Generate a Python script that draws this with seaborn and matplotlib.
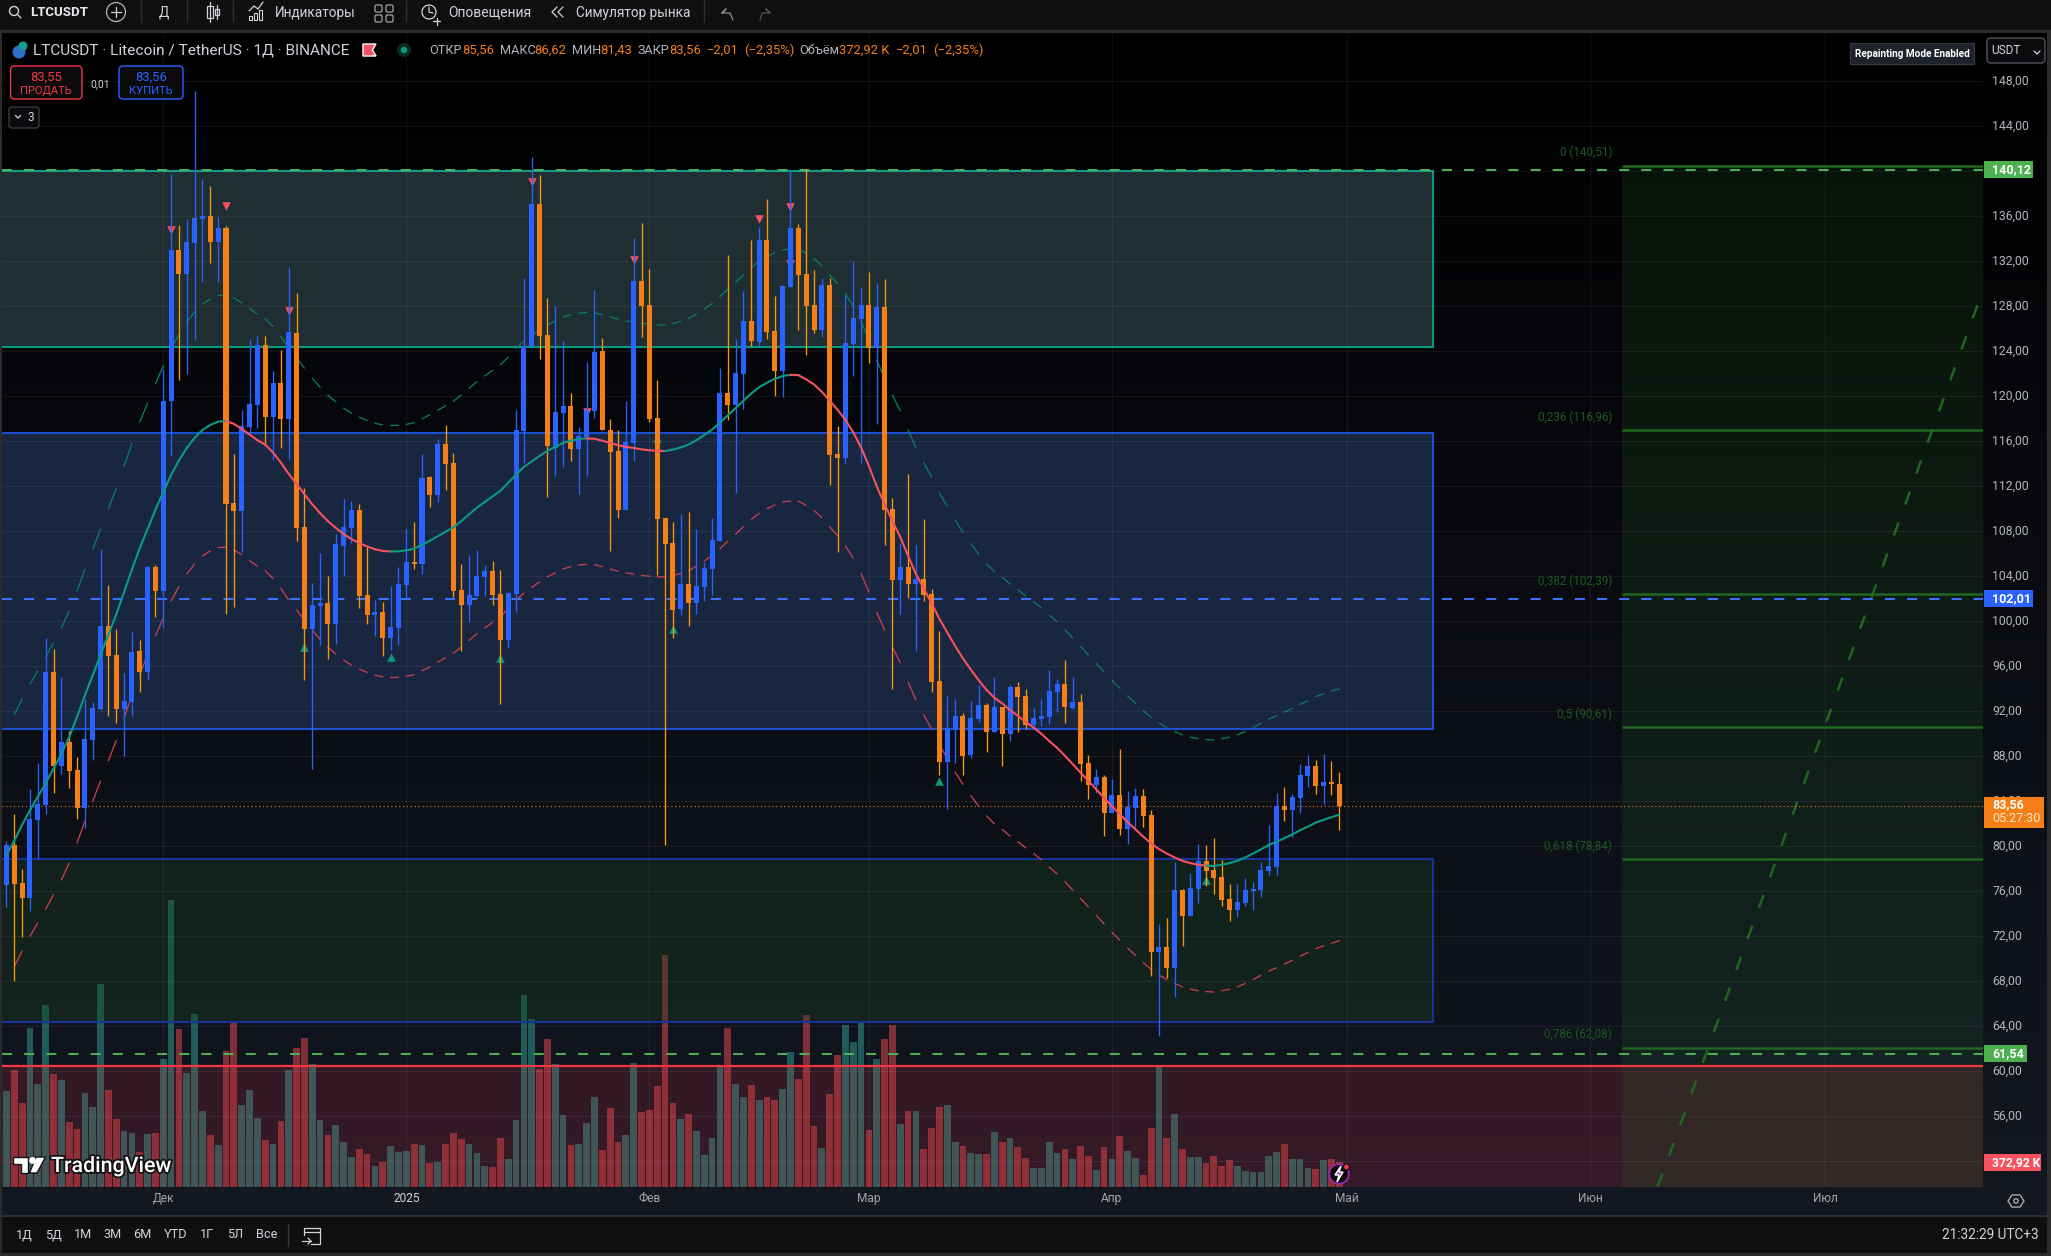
import numpy as np
import pandas as pd
import matplotlib
matplotlib.use("Agg")
import matplotlib.pyplot as plt
import matplotlib.patheffects as pe
from matplotlib.patches import Rectangle, FancyBboxPatch, Circle, Polygon
from matplotlib.transforms import ScaledTranslation
import seaborn as sns

# --- Data (day 0 = 1 Dec 2024) ---
first_day = -20
opens = [76.56,80.12,76.74,75.41,82.34,83.67,95.49,87.14,89.27,86.78,83.41,89.45,92.2,99.58,97.0,92.2,92.83,97.36,95.5,104.83,
102.68,119.59,132.99,130.88,133.64,135.74,136.02,133.7,134.96,110.51,
109.79,117.24,119.21,124.55,118.16,121.19,117.99,125.61,108.4,99.32,
101.36,101.63,99.76,106.7,108.3,109.89,102.34,100.57,100.81,98.5,
99.42,103.23,105.27,105.1,112.82,111.22,115.75,114.08,102.79,101.46,
102.24,103.94,104.49,102.45,98.33,102.41,116.92,124.44,137.08,125.42,
115.43,118.49,119.13,115.3,116.36,118.7,124.02,117.04,115.13,109.9,
115.85,130.23,128.1,118.06,109.17,106.96,101.09,103.35,101.6,103.05,
104.62,107.13,120.28,119.21,121.98,126.7,124.83,133.89,125.81,122.23,
129.72,134.95,130.87,128.1,125.89,129.89,114.87,114.49,124.66,126.87,
128.1,124.27,127.93,109.98,103.65,104.79,103.35,103.73,102.41,94.67,
87.48,90.37,91.56,88.08,91.31,92.56,90.14,92.37,89.99,94.15,
93.35,90.78,91.32,91.48,93.7,94.43,92.3,92.81,87.42,85.48,
86.15,82.97,84.56,81.54,83.42,84.46,82.78,70.59,71.03,69.19,
76.11,73.8,76.21,78.68,77.89,77.26,75.32,74.34,74.97,76.02,
76.11,77.8,78.14,83.6,83.22,84.3,86.24,87.13,85.35,85.7,85.56]
closes = [80.12,76.65,75.41,82.43,83.76,95.49,87.14,89.27,86.69,83.41,89.54,92.29,99.58,96.92,92.2,92.92,97.27,95.49,104.83,102.68,
119.59,132.99,130.88,133.7,135.85,136.02,133.7,134.96,110.44,109.79,
117.34,119.32,124.55,118.16,121.19,117.99,125.71,108.3,99.32,101.46,
101.63,99.76,106.87,108.4,109.89,102.24,100.57,100.81,98.5,99.49,
103.33,105.27,105.06,112.75,111.22,115.75,113.98,102.68,101.46,102.34,
104.01,104.49,102.34,98.33,102.49,117.0,124.44,137.08,125.34,115.55,
118.57,119.13,115.3,116.45,118.74,123.93,117.04,115.04,109.9,115.94,
130.23,128.02,117.98,109.09,106.83,100.97,103.35,101.6,103.14,104.71,
107.22,120.28,119.21,122.06,126.7,124.91,133.89,125.72,122.23,129.8,
134.95,130.78,128.02,125.89,129.89,114.79,114.49,124.74,126.95,128.1,
124.27,127.93,109.9,103.65,104.79,103.35,103.73,102.33,94.58,87.48,
90.5,91.56,87.99,91.39,92.56,90.14,92.37,89.99,94.15,93.26,
90.78,91.4,91.57,93.8,94.43,92.37,92.81,87.32,85.48,86.15,
82.97,84.56,81.54,83.48,84.46,82.68,70.59,71.03,69.19,76.11,
73.8,76.3,78.68,77.8,77.19,75.22,74.34,75.03,76.11,76.21,
77.89,78.24,83.6,83.22,84.37,86.34,87.13,85.35,85.7,85.54,83.56]
highs = [80.47,82.87,77.98,85.09,87.41,98.52,97.54,95.05,90.25,87.94,93.09,92.83,106.43,103.23,99.32,95.41,99.05,98.34,104.9,104.99,
122.41,139.76,135.23,135.74,147.16,139.32,138.7,135.95,135.13,114.86,
118.77,125.1,125.37,125.37,122.24,124.11,131.49,129.15,111.83,103.4,
106.09,104.01,107.72,110.88,110.68,110.44,106.56,101.9,101.73,103.13,
104.83,108.19,108.84,114.83,112.92,116.19,117.45,114.96,105.1,105.91,
106.32,104.99,105.37,104.54,102.62,118.74,130.53,141.29,139.67,128.74,
128.02,124.91,120.28,117.26,123.04,129.42,125.17,117.98,116.96,119.55,
134.06,135.42,131.29,121.42,109.17,108.79,109.51,109.69,108.2,105.26,
109.2,122.49,132.57,125.08,129.34,133.89,135.04,137.54,128.91,129.89,
140.05,135.29,140.18,131.21,130.53,130.53,117.34,129.0,132.02,129.63,
131.04,130.06,130.4,110.96,106.96,113.09,106.75,109.09,102.84,99.14,
93.35,93.05,91.82,92.88,94.34,92.75,95.03,92.37,94.34,94.59,
93.99,92.3,93.1,95.67,94.88,96.56,95.03,93.51,88.11,86.88,
86.34,85.99,88.65,84.91,85.19,85.1,83.22,73.1,73.64,78.59,
76.21,77.64,80.21,80.11,80.75,78.78,76.65,76.65,77.19,76.81,
78.59,81.89,84.75,85.26,84.65,87.32,88.11,87.67,88.21,87.57,86.62]
lows = [74.63,68.0,71.94,74.25,78.87,82.87,84.74,86.43,85.18,82.43,81.63,87.67,92.12,91.58,90.96,88.03,91.58,93.72,94.79,100.41,
99.45,114.69,121.46,122.0,124.98,130.17,131.83,130.17,100.64,101.25,
106.12,116.56,117.14,115.61,114.35,115.4,114.45,107.17,94.79,86.87,
97.85,96.66,97.99,104.01,106.97,101.19,99.76,98.71,96.9,97.45,
97.85,102.1,104.66,104.21,110.17,110.61,111.66,102.17,97.34,99.96,
102.17,102.24,101.46,92.63,97.6,100.84,114.07,124.44,123.3,111.05,
112.92,113.68,114.24,111.3,112.92,118.06,116.96,106.24,109.17,109.9,
114.24,125.25,117.72,104.11,80.08,98.54,100.54,99.56,100.63,101.77,
102.33,107.13,117.89,111.39,118.87,124.44,124.44,125.08,120.02,119.94,
129.72,125.89,123.68,125.64,125.25,112.11,106.15,113.98,121.81,114.07,
122.96,117.51,106.75,93.99,100.63,102.11,97.35,101.77,93.69,86.29,
83.27,87.4,86.33,87.86,91.05,88.37,90.14,87.13,89.35,90.14,
90.46,90.4,90.65,90.88,91.89,90.97,92.21,85.8,84.21,84.75,
80.91,82.97,81.0,80.21,81.64,81.7,68.46,63.13,68.3,66.59,
71.13,73.8,74.97,76.46,75.76,74.68,73.35,73.7,74.68,74.34,
75.48,77.45,77.45,82.24,80.84,82.97,85.26,84.65,83.76,84.56,81.43]
# volume, thousands of LTC
volumes = [1444,1760,1263,2394,1559,2741,1700,1620,976,870,1413,1202,3058,1459,1021,840,810,523,795,810,
1926,4341,2379,1715,2606,1142,780,629,2047,2470,
1232,1459,1036,704,644,991,1760,2092,2243,1851,
1006,780,931,674,448,568,493,312,372,614,
523,538,644,629,357,372,644,810,719,644,
508,312,297,734,417,1006,2892,2530,1776,2228,
1851,1081,629,644,961,1353,553,1187,674,780,
1866,1127,1157,1519,3496,1263,1021,1097,840,478,
734,1806,2394,1549,1353,1534,1308,1353,1308,1474,
2032,1625,2590,915,583,1398,1987,2440,2183,2470,
855,1926,2228,2440,946,1142,1142,568,885,1202,
1232,674,614,508,493,493,825,674,734,599,
433,282,282,674,508,568,417,614,463,252,
599,417,765,538,433,176,885,1806,734,1097,
568,448,448,357,463,312,402,312,236,221,
221,463,523,644,417,417,282,267,402,417,373]

# kernel line and its envelope, one value per candle
ma_vals = [79.2,80.5,81.9,83.2,84.4,85.6,86.9,88.2,89.7,91.5,93.4,95.2,97.0,98.8,100.6,102.6,104.6,106.5,108.2,109.9,
111.5,113.0,114.3,115.4,116.3,117.0,117.45,117.75,117.8,117.55,
117.1,116.6,116.1,115.7,115.0,114.1,113.1,112.2,111.3,110.4,
109.6,108.9,108.3,107.75,107.3,106.95,106.65,106.4,106.25,106.2,
106.22,106.3,106.45,106.8,107.15,107.55,107.95,108.35,108.9,109.5,
110.1,110.6,111.1,111.6,112.3,113.05,113.72,114.2,114.7,115.15,
115.5,115.85,116.05,116.2,116.25,116.22,116.05,115.85,115.65,115.5,
115.4,115.28,115.2,115.15,115.13,115.25,115.45,115.7,116.1,116.55,
117.05,117.65,118.3,118.95,119.6,120.25,120.8,121.2,121.55,121.8,
121.9,121.88,121.5,121.05,120.4,119.6,118.8,117.9,116.8,115.45,
113.8,112.0,110.4,108.9,107.5,105.8,104.2,102.9,101.6,100.2,
99.0,97.8,96.7,95.7,94.75,93.9,93.2,92.7,92.1,91.6,
91.05,90.55,90.0,89.35,88.75,88.05,87.3,86.55,85.8,85.05,
84.3,83.55,82.85,82.15,81.5,80.85,80.25,79.75,79.35,79.0,
78.7,78.5,78.35,78.28,78.24,78.35,78.5,78.7,79.0,79.35,
79.72,80.1,80.4,80.72,81.05,81.42,81.75,82.1,82.35,82.58,82.8]
upper_vals = [90.4,91.7,93.1,94.4,95.6,96.8,98.1,99.4,100.9,102.7,104.6,106.4,108.2,110.0,111.8,113.8,115.8,117.7,119.4,121.1,
122.7,124.2,125.5,126.6,127.5,128.2,128.65,128.95,129.0,128.75,
128.3,127.8,127.3,126.9,126.2,125.3,124.3,123.4,122.5,121.6,
120.8,120.1,119.5,118.95,118.5,118.15,117.85,117.6,117.45,117.4,
117.42,117.5,117.65,118.0,118.35,118.75,119.15,119.55,120.1,120.7,
121.3,121.8,122.3,122.8,123.5,124.25,124.92,125.4,125.9,126.35,
126.7,127.05,127.25,127.4,127.45,127.42,127.25,127.05,126.85,126.7,
126.6,126.48,126.4,126.35,126.33,126.45,126.65,126.9,127.3,127.75,
128.25,128.85,129.5,130.15,130.8,131.45,132.0,132.4,132.75,133.0,
133.1,133.08,132.7,132.25,131.6,130.8,130.0,129.1,128.0,126.65,
125.0,123.2,121.6,120.1,118.7,117.0,115.4,114.1,112.8,111.4,
110.2,109.0,107.9,106.9,105.95,105.1,104.4,103.9,103.3,102.8,
102.25,101.75,101.2,100.55,99.95,99.25,98.5,97.75,97.0,96.25,
95.5,94.75,94.05,93.35,92.7,92.05,91.45,90.95,90.55,90.2,
89.9,89.7,89.55,89.48,89.44,89.55,89.7,89.9,90.2,90.55,
90.92,91.3,91.6,91.92,92.25,92.62,92.95,93.3,93.55,93.78,94.0]
lower_vals = [68.0,69.3,70.7,72.0,73.2,74.4,75.7,77.0,78.5,80.3,82.2,84.0,85.8,87.6,89.4,91.4,93.4,95.3,97.0,98.7,
100.3,101.8,103.1,104.2,105.1,105.8,106.25,106.55,106.6,106.35,
105.9,105.4,104.9,104.5,103.8,102.9,101.9,101.0,100.1,99.2,
98.4,97.7,97.1,96.55,96.1,95.75,95.45,95.2,95.05,95.0,
95.02,95.1,95.25,95.6,95.95,96.35,96.75,97.15,97.7,98.3,
98.9,99.4,99.9,100.4,101.1,101.85,102.52,103.0,103.5,103.95,
104.3,104.65,104.85,105.0,105.05,105.02,104.85,104.65,104.45,104.3,
104.2,104.08,104.0,103.95,103.93,104.05,104.25,104.5,104.9,105.35,
105.85,106.45,107.1,107.75,108.4,109.05,109.6,110.0,110.35,110.6,
110.7,110.68,110.3,109.85,109.2,108.4,107.6,106.7,105.6,104.25,
102.6,100.8,99.2,97.7,96.3,94.6,93.0,91.7,90.4,89.0,
87.8,86.6,85.5,84.5,83.55,82.7,82.0,81.5,80.9,80.4,
79.85,79.35,78.8,78.15,77.55,76.85,76.1,75.35,74.6,73.85,
73.1,72.35,71.65,70.95,70.3,69.65,69.05,68.55,68.15,67.8,
67.5,67.3,67.15,67.08,67.04,67.15,67.3,67.5,67.8,68.15,
68.52,68.9,69.2,69.52,69.85,70.22,70.55,70.9,71.15,71.38,71.6]
ma_turns = [-20,8,29,54,64,80,133,150]
ma_turn_up = [True,False,True,False,True,False,True]

sell_days = [1,8,16,47,54,60,76,80,80]
sell_vals = [134.79,136.87,127.55,139.08,118.6,132.1,135.8,136.86,131.8]
buy_days = [18,29,43,63,65,99,133]
buy_vals = [97.68,96.8,96.75,116.3,99.35,85.83,76.97]

zone_right = 162
fib_left = 186
teal_zone = (124.36, 140.0)
blue_zone = (90.42, 116.75)
green_zone = (64.4, 78.91)
resist_level = 60.47
fib_levels = [140.51,116.96,102.39,90.61,78.84,62.08]
fib_names = ["0 (140,51)","0,236 (116,96)","0,382 (102,39)","0,5 (90,61)","0,618 (78,84)","0,786 (62,08)"]
green_dashes = [140.12,61.54]
blue_dash = 102.01
last_price = 83.56
proj_days = [190.6,231.5]
proj_vals = [49.7,128.3]

price_ticks = list(range(52,152,4))
price_labels = [""] + [f"{v},00" for v in price_ticks[1:]]  # 52 sits under the volume tag
month_days = [0,31,62,90,121,151,182,212]
month_names = ["Дек","2025","Фев","Мар","Апр","Май","Июн","Июл"]

FIG_W, FIG_H = 2051, 1256
BLUE, ORANGE, TEAL, RED, GREEN = "#2962ff", "#f57f17", "#089981", "#f23645", "#4caf50"
FIBC = "#1f661f"

sns.set_theme(style="dark", rc={"axes.facecolor":"none","figure.facecolor":"#0f0f0f"})
plt.rcParams["font.family"] = ["Roboto","DejaVu Sans"]

fig = plt.figure(figsize=(FIG_W/100, FIG_H/100), dpi=100)

# background gradient behind the pane and price scale
bg = fig.add_axes([0,0,1,1], zorder=-1)
grad = np.linspace(0,1,256)[:,None,None] * np.array([[[0x13,0x17,0x22]]])/255
bg.imshow(grad, extent=(2,2047,1187,33), aspect="auto", interpolation="bilinear")
bg.add_patch(Rectangle((0,1187),FIG_W,29,facecolor="#131722",edgecolor="none"))
bg.set_xlim(0,FIG_W); bg.set_ylim(FIG_H,0); bg.axis("off")

pane = [2/FIG_W, (FIG_H-1187)/FIG_H, 1981/FIG_W, 1154/FIG_H]
x_lim = (-20.57, 232.1)
y_lim = (49.71, 152.29)

# volume sits under the zones
ax_vol = fig.add_axes(pane, zorder=0)
candles = pd.DataFrame({"day":np.arange(first_day, first_day+len(opens)),"open":opens,"close":closes,"high":highs,"low":lows,
                        "vol":volumes,"ma":ma_vals,"upper":upper_vals,"lower":lower_vals})
candles["up"] = candles["close"] >= candles["open"]
sns.barplot(data=candles, x="day", y="vol", hue="up", palette={True:"#205b5a",False:"#7e2f37"},
            native_scale=True, width=0.86, saturation=1, linewidth=0, legend=False, ax=ax_vol)
ax_vol.set_xlim(*x_lim); ax_vol.set_ylim(0,1154*15.1)
ax_vol.axis("off")

ax = fig.add_axes(pane, zorder=1)
ax.patch.set_visible(False)
ax.set_xlim(*x_lim); ax.set_ylim(*y_lim)

# zones
def zone(lo, hi, fc, ec, alpha=1.0):
    ax.add_patch(Rectangle((x_lim[0]-2,lo), zone_right-x_lim[0]+2, hi-lo, facecolor=matplotlib.colors.to_rgba(fc,alpha),
                           edgecolor=ec, linewidth=1.5, zorder=1))
zone(*teal_zone, (0.122,0.18,0.2), TEAL)
zone(*blue_zone, (0.098,0.148,0.25), "#1c4fd0")
zone(*green_zone, (26/255,66/255,33/255), "#16339a", alpha=0.35)
ax.add_patch(Rectangle((x_lim[0],y_lim[0]), x_lim[1]-x_lim[0], resist_level-y_lim[0], facecolor=RED, alpha=0.15, linewidth=0, zorder=1.1))
ax.add_patch(Rectangle((fib_left,y_lim[0]), x_lim[1]-fib_left, fib_levels[0]-y_lim[0], facecolor=(60/255,170/255,60/255), alpha=0.1, linewidth=0, zorder=1.2))

ax.set_axisbelow(False)
ax.grid(True, color="white", alpha=0.06, linewidth=0.9)
ax.set_xticks(month_days, month_names)
ax.set_yticks(price_ticks, price_labels)
ax.yaxis.tick_right()
ax.tick_params(axis="y", length=0, pad=6.5, labelsize=8.8, labelcolor="#b2b5be")
ax.tick_params(axis="x", length=0, pad=3.5, labelsize=8.6, labelcolor="#a3a6af")
ax.get_xticklabels()[1].set_color("#d1d4dc")
nudge = ScaledTranslation(0, 1.7/100, fig.dpi_scale_trans)
for lab in ax.get_yticklabels():
    lab.set_transform(lab.get_transform() + nudge)
ax.set_xlabel(""); ax.set_ylabel("")
for s in ax.spines.values():
    s.set_visible(False)

# levels
ax.hlines(fib_levels, fib_left, x_lim[1], color=FIBC, linewidth=1.8, zorder=2.2)
ax.hlines(green_dashes, x_lim[0], x_lim[1], color=GREEN, linewidth=1.45, linestyles=[(0,(5,6))], zorder=2.3)
ax.hlines([blue_dash], x_lim[0], x_lim[1], color="#3a72ff", linewidth=1.45, linestyles=[(0,(5,6))], zorder=2.3)
ax.hlines([resist_level], x_lim[0], x_lim[1], color=RED, linewidth=1.6, zorder=2.3)
ax.hlines([last_price], x_lim[0], x_lim[1], color=ORANGE, linewidth=0.8, linestyles=[(0,(1,2.5))], zorder=2.3)
sns.lineplot(x=proj_days, y=proj_vals, color="#1f661f", linewidth=1.8, linestyle=(0,(5.6,7.6)), estimator=None, sort=False, ax=ax, zorder=2.2)

# envelope is drawn one bar on, one bar off
candles["dash"] = (candles["day"] + 1) // 2
sns.lineplot(data=candles, x="day", y="upper", units="dash", color="#0b7a68", linewidth=0.95, estimator=None, sort=False, ax=ax, zorder=2.4)
sns.lineplot(data=candles, x="day", y="lower", units="dash", color="#c9404c", linewidth=0.95, estimator=None, sort=False, ax=ax, zorder=2.4)

sns.scatterplot(x=sell_days, y=sell_vals, marker="v", s=38, color="#f7525f", linewidth=0, ax=ax, zorder=2.9)
sns.scatterplot(x=buy_days, y=buy_vals, marker="^", s=38, color=TEAL, linewidth=0, ax=ax, zorder=2.9)

# candles
cols = np.where(candles["up"], BLUE, ORANGE)
wick_cols = np.where(candles["up"], BLUE, "#ff9800")
ax.vlines(candles["day"], candles["low"], candles["high"], colors=wick_cols, linewidth=0.95, zorder=3)
body_lo = candles[["open","close"]].min(axis=1)
body_h = (candles["close"]-candles["open"]).abs()
ax.bar(candles["day"], body_h, bottom=body_lo, width=0.64, color=cols, linewidth=0, zorder=3.1)

for lo, hi, is_up in zip(ma_turns[:-1], ma_turns[1:], ma_turn_up):
    part = candles[(candles["day"] >= lo) & (candles["day"] <= hi)]
    sns.lineplot(data=part, x="day", y="ma", color="#0c9a84" if is_up else "#f7525f", linewidth=1.5,
                 estimator=None, sort=False, ax=ax, zorder=3.4)

ax.set_xlim(*x_lim); ax.set_ylim(*y_lim)
ax.set_xlabel(""); ax.set_ylabel("")

# --- chrome in pixel coordinates ---
ov = fig.add_axes([0,0,1,1], zorder=10)
ov.set_xlim(0,FIG_W); ov.set_ylim(FIG_H,0); ov.axis("off")

def box(x0,y0,x1,y1,fc,ec="none",lw=0,z=1,r=0):
    if r:
        ov.add_patch(FancyBboxPatch((x0+r,y0+r),x1-x0-2*r,y1-y0-2*r,boxstyle=f"round,pad={r},rounding_size={r}",facecolor=fc,edgecolor=ec,linewidth=lw,zorder=z))
    else:
        ov.add_patch(Rectangle((x0,y0),x1-x0,y1-y0,facecolor=fc,edgecolor=ec,linewidth=lw,zorder=z))
def txt(x,y,s,size=8.6,color="#d1d4dc",ha="left",weight="normal",**kw):
    return ov.text(x,y,s,fontsize=size,color=color,ha=ha,va="center",fontweight=weight,zorder=5,**kw)
def seg(xs,ys,color="#d1d4dc",lw=0.9,z=5):
    ov.plot(xs,ys,color=color,linewidth=lw,zorder=z,solid_capstyle="round")

box(0,0,FIG_W,30,"#0f0f0f")
box(0,30,FIG_W,33,"#2b2b2b")
box(0,1215,FIG_W,1216.5,"#2a2e39")
box(0,1216.5,FIG_W,1253,"#0f0f0f")
box(0,1253,FIG_W,FIG_H,"#2b2b2b")
box(0,33,2,FIG_H,"#2b2b2b",z=2)
box(2047,33,FIG_W,FIG_H,"#2b2b2b",z=2)

# top toolbar
ov.add_patch(Circle((14,11),4.5,fill=False,edgecolor="#d1d4dc",linewidth=1,zorder=5))
seg([17.5,21],[14.5,18])
txt(30,12,"LTCUSDT",9.5,"#e6e8ee",weight="bold")
ov.add_patch(Circle((116,12),9.5,fill=False,edgecolor="#b2b5be",linewidth=0.9,zorder=5))
seg([111,121],[12,12]); seg([116,116],[7,17])
for sx in [141,187,233,406,704]:
    seg([sx,sx],[0,22],"#2a2e39",1)
txt(164,12.5,"Д",9.8,ha="center")
box(207,6,213,18,"none","#d1d4dc",0.9,z=5); seg([210,210],[2,22])
box(214.5,9,219,15,"none","#d1d4dc",0.9,z=5); seg([217,217],[5,19])
for bx,bh in [(249,4),(254,7),(259,10)]:
    box(bx,20-bh,bx+3,20,"none","#d1d4dc",0.8,z=5)
seg([249,254,258,263],[11,6,9,2])
txt(275,12.5,"Индикаторы",9.8)
for gx in [375,386]:
    for gy in [5,15]:
        box(gx,gy,gx+7,gy+7,"none","#b2b5be",0.8,z=5,r=1.5)
ov.add_patch(Circle((429,12),7,fill=False,edgecolor="#d1d4dc",linewidth=0.9,zorder=5))
seg([429,429,433],[7,12,13]); seg([433,440],[21,21]); seg([436.5,436.5],[17.5,24.5])
txt(448,12.5,"Оповещения",10.0)
seg([557,552,557],[7,12,17]); seg([563,558,563],[7,12,17])
txt(576,12.5,"Симулятор рынка",9.8)
seg([722,726,722,730,733],[13,9,13,13,20],"#8a8d96"); seg([770,766,770,762,760],[13,9,13,13,20],"#50535e")

# legend row
ov.add_patch(Circle((19,52),6.5,facecolor="#2a6fc9",edgecolor="none",zorder=5))
ov.add_patch(Circle((23,46),4.5,facecolor="#1a9a90",edgecolor="none",zorder=5))
txt(33,50.5,"LTCUSDT · Litecoin / TetherUS · 1Д · BINANCE",11.1,"#d1d4dc")
ov.add_patch(Polygon([(363,44),(376,44),(372.5,50),(376,56),(363,56)],facecolor="#f7525f",zorder=5))
ov.add_patch(Circle((404,50),7,facecolor="#0c2a26",edgecolor="none",zorder=5))
ov.add_patch(Circle((404,50),3.2,facecolor=TEAL,edgecolor="none",zorder=5))
for lx,s in [(429,"ОТКР"),(500,"МАКС"),(572,"МИН"),(638,"ЗАКР"),(799,"Объём")]:
    txt(lx,50.5,s,9.2,"#b2b5be")
for lx,s in [(462,"85,56"),(534,"86,62"),(600,"81,43"),(669,"83,56"),(707,"−2,01"),(744,"(−2,35%)"),(839,"372,92 K"),(896,"−2,01"),(933,"(−2,35%)")]:
    txt(lx,50.5,s,9.4,ORANGE)

# buy / sell
box(10.5,66,82,99,"#0b0b0d",RED,1,z=4,r=4)
txt(46,77,"83,55",9.4,RED,ha="center"); txt(46,91,"ПРОДАТЬ",8,RED,ha="center")
txt(100.5,84,"0,01",7.4,"#d1d4dc",ha="center")
box(119,66,183,99,"#0b0b0d",BLUE,1,z=4,r=4)
txt(151,77,"83,56",9.4,BLUE,ha="center"); txt(151,91,"КУПИТЬ",8,BLUE,ha="center")
box(9,107,39,128,"#0b0b0d","#363a45",1,z=4,r=3)
seg([15.5,18,20.5],[115.5,118,115.5]); txt(27,117.5,"3",8.6)

# top right
box(1850,43,1974,64,"#1e222d","#363a45",0.8,z=4)
txt(1912,54,"Repainting Mode Enabled",7.2,"#ffffff",ha="center",weight="bold")
box(1987,38,2045,63,"#0b0b0d","#50535e",1,z=4,r=4)
txt(1991,50.5,"USDT",8.6)
seg([2034,2037,2040],[51,54,51])

# price labels
def plabel(x1,y0,y1,fc,s,size=9,tx=1992):
    box(1984,y0,x1,y1,fc,z=3)
    txt(tx,(y0+y1)/2,s,size,"#ffffff",weight="bold")
plabel(2033,161,178,GREEN,"140,12")
plabel(2033,590,607,BLUE,"102,01")
plabel(2027,1045,1062,GREEN,"61,54")
plabel(2041,1154,1171,"#f7525f","372,92 K",size=8.7)
box(1984,797,2044,828,ORANGE,z=3)
txt(1992,805,"83,56",9,"#ffffff",weight="bold")
txt(1992,819,"05:27:30",9,"#ffe6cc")

# fib labels
for s,fy in zip(fib_names,[152.7,417,581,714,846.7,1034.7]):
    txt(1612,fy,s,8.4,"#1d5a20",ha="right")

# bottom toolbar
for cx,s in [(24.5,"1Д"),(53.6,"5Д"),(83,"1М"),(112.5,"3М"),(142,"6М"),(175.4,"YTD"),(207,"1Г"),(235,"5Л"),(266.5,"Все")]:
    txt(cx,1235,s,9.2,ha="center")
seg([288,288],[1224,1246],"#363a45",1)
box(304,1228,320,1244,"none","#d1d4dc",0.9,z=5)
box(302,1236,311,1245,"#0f0f0f",z=5)
seg([304,320],[1232,1232]); seg([302,311],[1241,1241]); seg([308,311,308],[1238,1241,1244])
txt(2038.5,1235,"21:32:29 UTC+3",9.8,"#d1d4dc",ha="right")

# gear
theta = np.deg2rad(np.arange(0,360,60))
ov.add_patch(Polygon(np.c_[2016+8*np.cos(theta),1201+7*np.sin(theta)],fill=False,edgecolor="#b2b5be",linewidth=0.9,zorder=5))
ov.add_patch(Circle((2016,1201),2.2,fill=False,edgecolor="#b2b5be",linewidth=0.9,zorder=5))

# TradingView mark
shadow = [pe.withStroke(linewidth=2.6,foreground="#131313")]
for pts in [[(13,1157),(28,1157),(28,1173),(21,1173),(21,1164),(13,1164)],[(36,1157),(45.5,1157),(37,1173),(29.5,1173)]]:
    ov.add_patch(Polygon(pts,facecolor="#ffffff",edgecolor="#131313",linewidth=1,zorder=5))
ov.add_patch(Circle((32.5,1160.5),3.4,facecolor="#ffffff",edgecolor="none",zorder=5))
txt(51,1166.5,"TradingView",15.4,"#ffffff",weight="medium",path_effects=shadow)

# lightning badge
ov.add_patch(Circle((1339,1174),9.8,facecolor="#0b0b0d",edgecolor="#9c27b0",linewidth=1.3,zorder=5))
ov.add_patch(Polygon([(1341,1166),(1335,1175),(1339,1175),(1337,1182),(1343,1172),(1339,1172)],facecolor="#ab47bc",zorder=6))
ov.add_patch(Circle((1346.5,1167),3,facecolor=RED,edgecolor="#0b0b0d",linewidth=0.8,zorder=7))

fig.savefig("out.png", dpi=100)
